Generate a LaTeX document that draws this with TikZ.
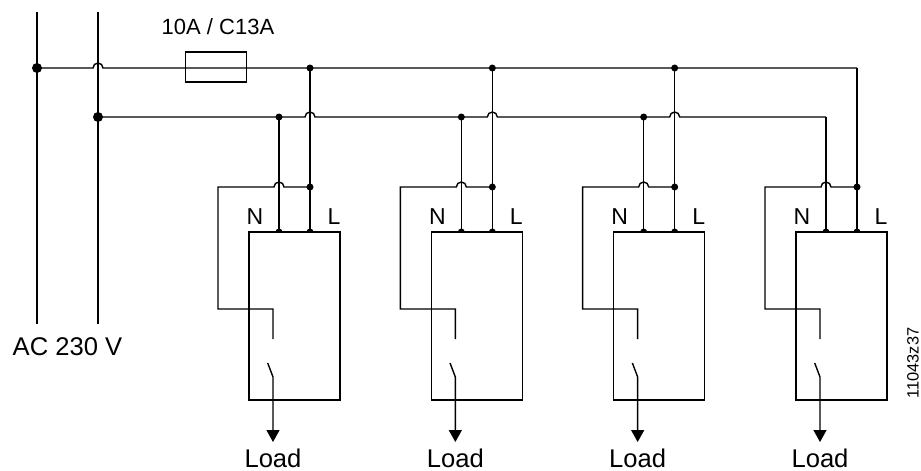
\documentclass[tikz,border=0pt]{standalone}
\usepackage{fontspec}
\setmainfont{Liberation Sans}
\usetikzlibrary{arrows.meta}
\begin{document}
\begin{tikzpicture}[x=0.5pt,y=-0.5pt,line width=0.7pt,
        lbl/.style={font=\fontsize{12.8}{15}\selectfont},
        pin/.style={font=\fontsize{11.5}{14}\selectfont},
        unitbox/.style={draw,minimum width=45.5pt,minimum height=84pt},
        load/.style={-{Triangle[length=6pt,width=6.5pt]}}]
        \tikzstyle{every node}+=[inner sep=0pt]
        \useasboundingbox (0,0) rectangle (921,471);
        % supply
        \coordinate (Ltop) at (37,12);
        \coordinate (Lbot) at (37,324);
        \coordinate (Ntop) at (98,12);
        \coordinate (Nbot) at (98,324);
        \coordinate (Lj) at (37,68);
        \coordinate (Nj) at (98,117);
        \draw (Ltop) -- (Lbot);
        \draw (Ntop) -- (Nbot);
        \node [lbl,anchor=west] (ac) at (12,347) {AC 230 V};
        % fuse
        \node [draw,minimum width=30.5pt,minimum height=15pt] (fuse) at (215.8,67) {};
        \node [font=\fontsize{11}{13}\selectfont] (fuselbl) at (218,27) {10A / C13A};
        % units
        \foreach \i/\xl in {1/310,2/492.33,3/674.67,4/857} {
          \pgfmathsetmacro\xn{\xl-31}
          \pgfmathsetmacro\xs{\xl-37}
          \pgfmathsetmacro\xw{\xl-92}
          \coordinate (Ltap\i) at (\xl,68);
          \coordinate (Ntap\i) at (\xn,117);
          \coordinate (Lbr\i) at (\xl,187);
          \coordinate (Lin\i) at (\xl,232);
          \coordinate (Nin\i) at (\xn,232);
          \coordinate (sw\i) at (\xs,339);
          \coordinate (out\i) at (\xs,442);
          \node [unitbox] (unit\i) at (\xl-15.5,316) {};
          \node [pin] (n\i) at (\xl-55,217) {N};
          \node [pin] (l\i) at (\xl+24,217) {L};
          \draw (Ltap\i) -- (Lin\i);
          \draw (Ntap\i) -- (Nin\i);
          \draw (Lbr\i) -- (\xn+5,187) arc (0:180:2.5pt) -- (\xw,187) -- (\xw,309) -- (\xs,309) -- (sw\i);
          \draw [load] (\xs-5.3,363) -- (\xs,377) -- (out\i);
          \node [lbl] (load\i) at (\xs,458.5) {Load};
          \fill (Lbr\i) circle (1.75pt);
          \fill (Lin\i) ++(-1.75pt,0) arc (180:0:1.75pt) -- cycle;
          \fill (Nin\i) ++(-1.75pt,0) arc (180:0:1.75pt) -- cycle;
        }
        \foreach \i in {1,2,3} {
          \fill (Ltap\i) circle (1.75pt);
          \fill (Ntap\i) circle (1.75pt);
        }
        % buses
        \draw (Lj) -- (93,68) arc (180:0:2.5pt) -- (Ltap4);
        \draw (Nj) -- (305,117) arc (180:0:2.5pt) -- (487.33,117) arc (180:0:2.5pt)
          -- (669.67,117) arc (180:0:2.5pt) -- (Ntap4);
        \fill (Lj) circle (2.5pt);
        \fill (Nj) circle (2.5pt);
        \node [font=\fontsize{8.2}{10}\selectfont,rotate=90] (docid) at (913,363) {11043z37};
\end{tikzpicture}
\end{document}
